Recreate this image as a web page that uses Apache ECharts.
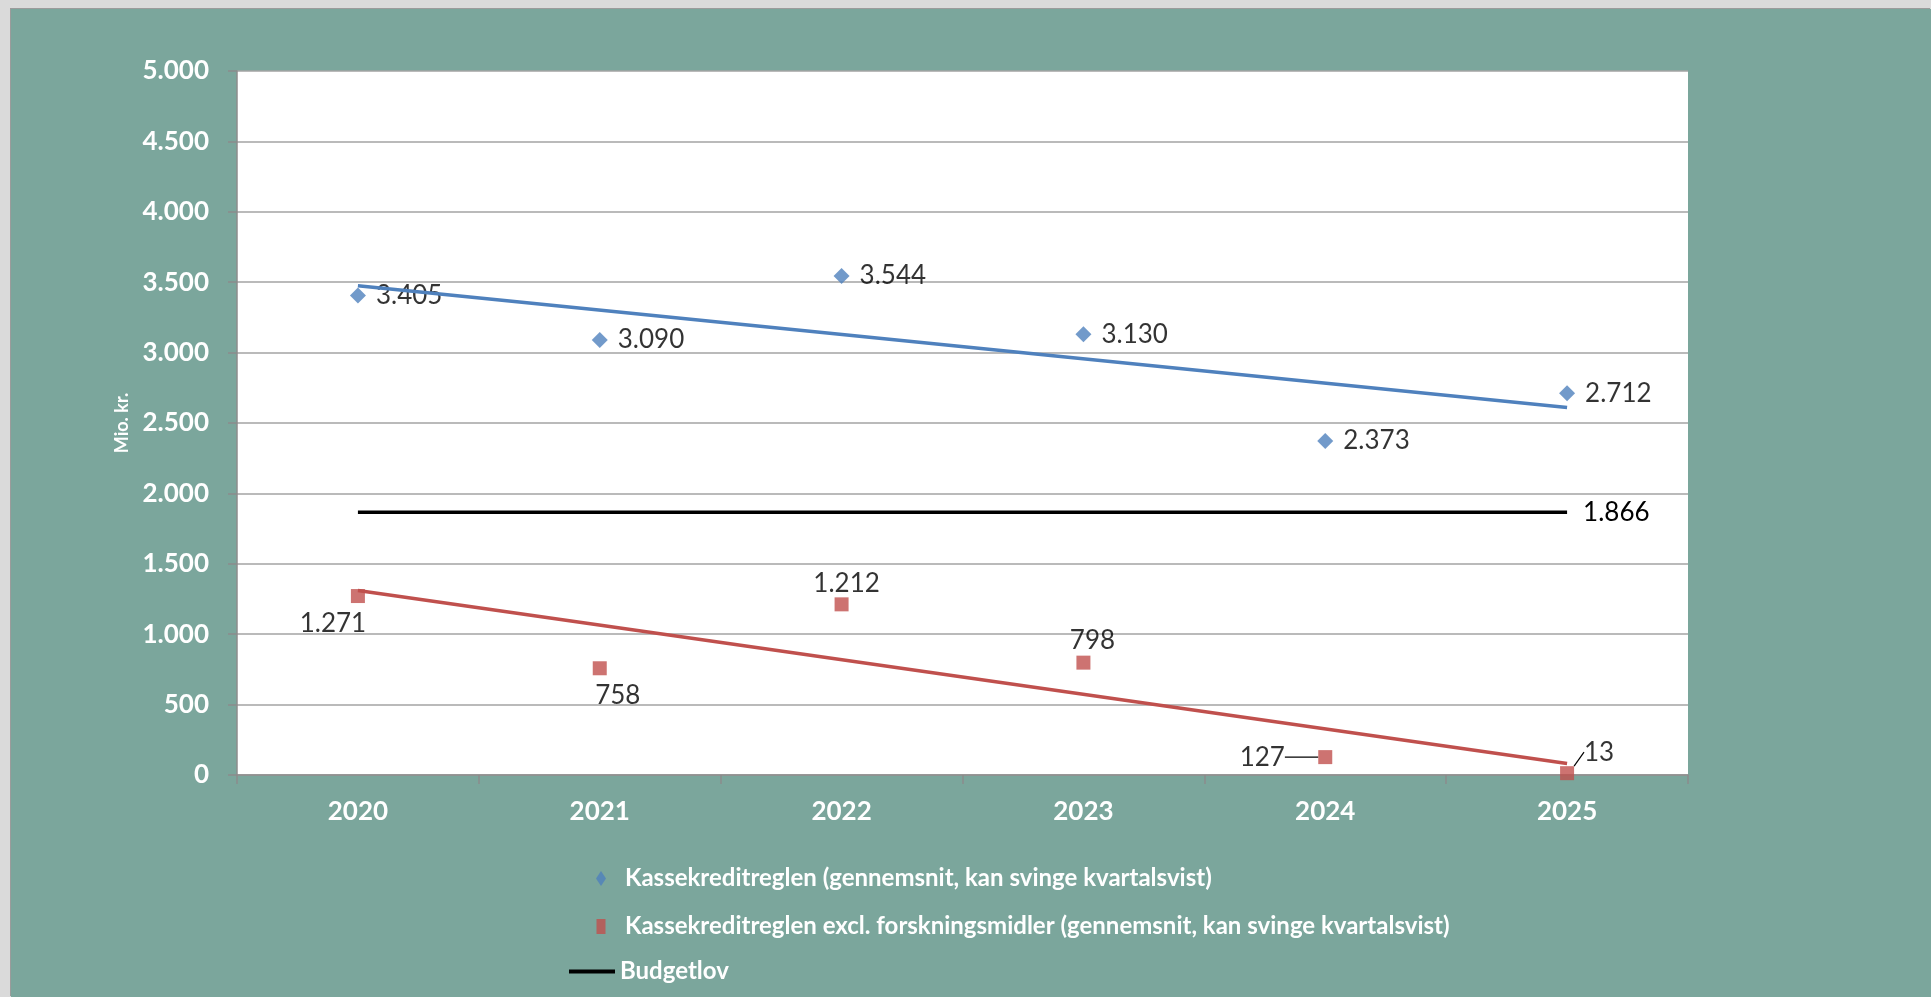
<!DOCTYPE html>
<html>
<head>
<meta charset="utf-8">
<title>Kassekreditreglen</title>
<script src="https://cdn.jsdelivr.net/npm/echarts@6/dist/echarts.min.js"></script>
<style>
  html, body { margin: 0; padding: 0; width: 100%; height: 100%; background: #dadada; overflow: hidden; }
  #chart {
    position: absolute;
    left: 11px;
    top: 9px;
    width: 1920px;
    height: 988px;
    background: #7ba69c;
    box-shadow: -1px -1px 0 #9b9b9b;
  }
</style>
</head>
<body>
<div id="chart"></div>
<script>
// data
var years = ['2020', '2021', '2022', '2023', '2024', '2025']
var kasseValues = [3405, 3090, 3544, 3130, 2373, 2712]
var exclValues = [1271, 758, 1212, 798, 127, 13]
var budgetValues = [1866, 1866, 1866, 1866, 1866, 1866]
// trend lines, only end points are drawn in the original
var kasseTrend = [3475, null, null, null, null, 2610]
var exclTrend = [1310, null, null, null, null, 82]

var nameKasse = 'Kassekreditreglen (gennemsnit, kan svinge kvartalsvist)'
var nameExcl = 'Kassekreditreglen excl. forskningsmidler (gennemsnit, kan svinge kvartalsvist)'
var nameBudget = 'Budgetlov'

// label shifts for the red points (dx, dy) and which have a leader line
var exclShift = [[-25, 28], [18, 27], [5, -21], [9, -22], [-63, 0], [32, -21]]
var exclLeader = [false, false, false, false, true, true]

var font = 'Lato, "Open Sans", sans-serif'

// legend icons, padded with tiny dots so the icon box is the full item width
var iconDiamond = 'path://M0,7.5L0.01,7.5Z M19,0L24,7.5L19,15L14,7.5Z M38,7.5L37.99,7.5Z'
var iconSquare = 'path://M0,7.5L0.01,7.5Z M14.5,0L23.5,0L23.5,15L14.5,15Z M38,7.5L37.99,7.5Z'
var iconLine = 'path://M0,0L46,0L46,4L0,4Z'

function dk(v) {
  return String(v).replace(/\B(?=(\d{3})+(?!\d))/g, '.')
}

var chart = echarts.init(document.getElementById('chart'), null, { renderer: 'canvas' })

var legendText = { color: '#fff', fontWeight: 'bold', fontSize: 24, lineHeight: 29, fontFamily: font }

var option = {
  animation: false,
  textStyle: { fontFamily: font },
  grid: {
    left: 226,
    top: 62,
    width: 1451,
    height: 704,
    show: true,
    backgroundColor: '#ffffff',
    borderWidth: 0,
    outerBoundsMode: 'none'
  },
  legend: [
    {
      orient: 'vertical',
      left: 566,
      top: 850,
      itemWidth: 38,
      itemHeight: 15,
      itemGap: 19,
      symbolKeepAspect: false,
      selectedMode: false,
      textStyle: legendText,
      data: [
        { name: nameKasse, icon: iconDiamond },
        { name: nameExcl, icon: iconSquare }
      ]
    },
    {
      orient: 'vertical',
      left: 553,
      top: 943,
      itemWidth: 46,
      itemHeight: 4,
      symbolKeepAspect: false,
      selectedMode: false,
      textStyle: legendText,
      data: [{ name: nameBudget, icon: iconLine }]
    }
  ],
  xAxis: {
    type: 'category',
    data: years,
    boundaryGap: true,
    axisLine: { show: true, lineStyle: { color: '#8c8c8c', width: 1.5 } },
    axisTick: { show: true, length: 9, alignWithLabel: false, lineStyle: { color: '#8c8c8c', width: 1.5 } },
    axisLabel: { color: '#fff', fontWeight: 'bold', fontSize: 26, margin: 24, fontFamily: font },
    splitLine: { show: false }
  },
  yAxis: {
    type: 'value',
    min: 0,
    max: 5000,
    interval: 500,
    name: 'Mio. kr.',
    nameLocation: 'middle',
    nameRotate: 90,
    nameGap: 99,
    nameTextStyle: { color: '#fff', fontWeight: 'bold', fontSize: 18, fontFamily: font },
    axisLine: { show: true, lineStyle: { color: '#8c8c8c', width: 1.5 } },
    axisTick: { show: true, length: 9, lineStyle: { color: '#8c8c8c', width: 1.5 } },
    axisLabel: {
      color: '#fff',
      fontWeight: 'bold',
      fontSize: 26,
      margin: 28,
      fontFamily: font,
      formatter: function (v) { return dk(v) }
    },
    splitLine: { show: true, lineStyle: { color: '#a3a3a3', width: 1.5 } }
  },
  series: [
    {
      name: nameKasse,
      type: 'scatter',
      symbol: 'diamond',
      symbolSize: 16,
      itemStyle: { color: '#4f81bd' },
      label: {
        show: true,
        position: 'right',
        distance: 10,
        color: '#000',
        fontSize: 26,
        fontFamily: font,
        formatter: function (p) { return dk(p.value) }
      },
      data: kasseValues,
      z: 3
    },
    {
      name: nameExcl,
      type: 'scatter',
      symbol: 'rect',
      symbolSize: 14,
      itemStyle: { color: '#c0504d' },
      label: {
        show: true,
        position: 'inside',
        color: '#000',
        fontSize: 26,
        fontFamily: font,
        formatter: function (p) { return dk(p.value) }
      },
      labelLine: { show: false, lineStyle: { color: '#000', width: 1.2 } },
      labelLayout: function (p) {
        var s = exclShift[p.dataIndex]
        return { dx: s[0], dy: s[1] }
      },
      data: exclValues.map(function (v, i) {
        return exclLeader[i] ? { value: v, labelLine: { show: true } } : v
      }),
      z: 3
    },
    {
      name: nameBudget,
      type: 'line',
      symbol: 'none',
      lineStyle: { color: '#000', width: 3.5 },
      itemStyle: { color: '#000' },
      endLabel: {
        show: true,
        distance: 16,
        color: '#000',
        fontSize: 26,
        fontFamily: font,
        formatter: function (p) { return dk(p.value) }
      },
      data: budgetValues,
      z: 4
    },
    {
      name: 'trend1',
      type: 'line',
      symbol: 'none',
      connectNulls: true,
      silent: true,
      lineStyle: { color: '#4f81bd', width: 3.5 },
      data: kasseTrend,
      z: 5
    },
    {
      name: 'trend2',
      type: 'line',
      symbol: 'none',
      connectNulls: true,
      silent: true,
      lineStyle: { color: '#c0504d', width: 3.5 },
      data: exclTrend,
      z: 5
    }
  ]
}

chart.setOption(option)
</script>
</body>
</html>
